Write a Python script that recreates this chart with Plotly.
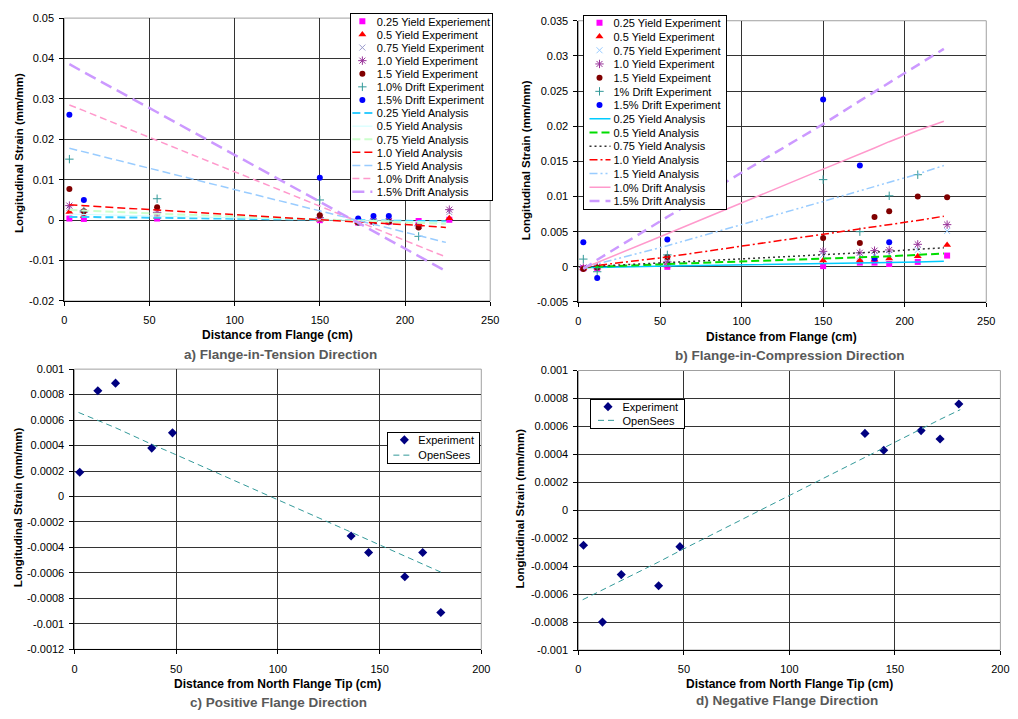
import plotly.graph_objects as go

# ======================= DATA =======================
# ---- a) Flange-in-Tension Direction ----
A_EXP_X = [3, 11.5, 54.5, 150, 172.5, 181.5, 190.5, 208, 226]
A_EXP_NAMES = ["0.25 Yield Experiement", "0.5 Yield Experiment", "0.75 Yield Experiment",
               "1.0 Yield Experiment", "1.5 Yield Experiment", "1.0% Drift Experiment",
               "1.5% Drift Experiment"]
A_EXP_025 = [0.0004, 0.0003, 0.0004, 0.0000, -0.0006, -0.0004, -0.0004, -0.0002, 0.0001]
A_EXP_050 = [0.0020, 0.0010, 0.0008, 0.0001, -0.0005, -0.0006, -0.0004, -0.0008, 0.0005]
A_EXP_075 = [0.0030, 0.0016, 0.0014, 0.0003, -0.0004, -0.0003, -0.0003, -0.0010, 0.0020]
A_EXP_100 = [0.0036, 0.0020, 0.0019, 0.0006, -0.0004, -0.0002, -0.0002, -0.0014, 0.0026]
A_EXP_150 = [0.0077, 0.0022, 0.0032, 0.0012, -0.0006, -0.0004, -0.0004, -0.0018, None]
A_EXP_D10 = [0.0151, 0.0023, 0.0053, 0.0050, -0.0004, -0.0003, -0.0002, -0.0040, None]
A_EXP_D15 = [0.0261, 0.0050, None, 0.0105, 0.0004, 0.0010, 0.0010, None, None]

A_ANA_X = [3, 11.5, 54.5, 150, 172.5, 181.5, 190.5, 208, 224]
A_ANA_NAMES = ["0.25 Yield Analysis", "0.5 Yield Analysis", "0.75 Yield Analysis",
               "1.0 Yield Analysis", "1.5 Yield Analysis", "1.0% Drift Analysis",
               "1.5% Drift Analysis"]
A_ANA_025 = [0.0008, 0.0008, 0.0006, 0.0001, 0.0000, -0.0001, -0.0001, -0.0002, -0.0003]
A_ANA_050 = [0.0015, 0.0014, 0.0010, 0.0001, -0.0001, -0.0002, -0.0003, -0.0004, -0.0005]
A_ANA_075 = [0.0025, 0.0024, 0.0016, 0.0001, -0.0002, -0.0004, -0.0005, -0.0007, -0.0009]
A_ANA_100 = [0.0038, 0.0036, 0.0025, 0.0001, -0.0004, -0.0007, -0.0009, -0.0013, -0.0018]
A_ANA_150 = [0.0178, 0.0169, 0.0124, 0.0023, -0.0001, -0.0010, -0.0020, -0.0038, -0.0055]
A_ANA_D10 = [0.0285, 0.0271, 0.0197, 0.0035, -0.0003, -0.0019, -0.0034, -0.0064, -0.0091]
A_ANA_D15 = [0.0386, 0.0366, 0.0267, 0.0045, -0.0007, -0.0028, -0.0049, -0.0089, -0.0126]

# ---- b) Flange-in-Compression Direction ----
B_EXP_X = [3, 11.5, 54.5, 150, 172.5, 181.5, 190.5, 208, 226]
B_EXP_NAMES = ["0.25 Yield Experiment", "0.5 Yield Experiment", "0.75 Yield Experiment",
               "1.0 Yield Experiment", "1.5 Yield Expeiment", "1% Drift Experiment",
               "1.5% Drift Experiment"]
B_EXP_025 = [-0.0002, -0.0002, 0.0000, 0.0001, 0.0006, 0.0006, 0.0004, 0.0007, 0.0016]
B_EXP_050 = [-0.0002, -0.0001, 0.0002, 0.0009, 0.0009, 0.0010, 0.0012, 0.0015, 0.0031]
B_EXP_075 = [-0.0001, 0.0000, 0.0005, 0.0017, 0.0015, 0.0016, 0.0018, 0.0024, 0.0051]
B_EXP_100 = [-0.0001, 0.0000, 0.0007, 0.0022, 0.0020, 0.0023, 0.0024, 0.0032, 0.0060]
B_EXP_150 = [-0.0003, -0.0001, 0.0014, 0.0041, 0.0034, 0.0071, 0.0079, 0.0100, 0.0099]
B_EXP_D10 = [0.0011, -0.0007, 0.0017, 0.0124, 0.0050, None, 0.0101, 0.0131, None]
B_EXP_D15 = [0.0035, -0.0016, 0.0039, 0.0238, 0.0144, 0.0012, 0.0035, None, None]

B_ANA_X = [3, 11.5, 54.5, 150, 172.5, 181.5, 190.5, 208, 224]
B_ANA_NAMES = ["0.25 Yield Analysis", "0.5 Yield Analysis", "0.75 Yield Analysis",
               "1.0 Yield Analysis", "1.5 Yield Analysis", "1.0% Drift Analysis",
               "1.5% Drift Analysis"]
B_ANA_025 = [-0.0001, -0.0001, 0.0001, 0.0004, 0.0005, 0.0006, 0.0006, 0.0007, 0.0008]
B_ANA_050 = [-0.0001, 0.0000, 0.0004, 0.0011, 0.0013, 0.0014, 0.0015, 0.0017, 0.0019]
B_ANA_075 = [-0.0001, 0.0001, 0.0006, 0.0017, 0.0020, 0.0021, 0.0022, 0.0025, 0.0027]
B_ANA_100 = [-0.0001, 0.0002, 0.0014, 0.0046, 0.0054, 0.0057, 0.0060, 0.0066, 0.0072]
B_ANA_150 = [-0.0001, 0.0004, 0.0030, 0.0093, 0.0108, 0.0114, 0.0120, 0.0132, 0.0144]
B_ANA_D10 = [-0.0002, 0.0006, 0.0047, 0.0139, 0.0160, 0.0169, 0.0178, 0.0194, 0.0207]
B_ANA_D15 = [-0.0003, 0.0010, 0.0071, 0.0203, 0.0236, 0.0249, 0.0262, 0.0287, 0.0310]

# ---- c) Positive Flange Direction ----
C_EXP_X = [2.6, 11.5, 20.2, 38, 48.2, 136, 144.6, 162.4, 171.2, 180.1]
C_EXP_Y = [0.00019, 0.00083, 0.00089, 0.00038, 0.00050, -0.00031, -0.00044, -0.00063, -0.00044, -0.00091]
C_SIM_X = [2, 11.5, 20.2, 38, 48.2, 136, 144.6, 162.4, 171.2, 181]
C_SIM_Y = [0.00066, 0.00060, 0.00054, 0.00041, 0.00034, -0.00028, -0.00034, -0.00047, -0.00053, -0.00060]

# ---- d) Negative Flange Direction ----
D_EXP_X = [2.4, 11.4, 20.3, 38, 48.1, 135.8, 144.7, 162.4, 171.4, 180.3]
D_EXP_Y = [-0.00025, -0.00080, -0.00046, -0.00054, -0.00026, 0.00055, 0.00043, 0.00057, 0.00051, 0.00076]
D_SIM_X = [2, 11.4, 20.3, 38, 48.1, 135.8, 144.7, 162.4, 171.4, 181]
D_SIM_Y = [-0.00064, -0.00057, -0.00050, -0.00037, -0.00029, 0.00038, 0.00045, 0.00058, 0.00065, 0.00072]
CD_NAMES = ["Experiment", "OpenSees"]

# ---- ticks ----
AB_X_TICKS = [0, 50, 100, 150, 200, 250]
CD_X_TICKS = [0, 50, 100, 150, 200]
A_Y_TICKS = [-0.02, -0.01, 0, 0.01, 0.02, 0.03, 0.04, 0.05]
A_Y_LABELS = ["-0.02", "-0.01", "0", "0.01", "0.02", "0.03", "0.04", "0.05"]
B_Y_TICKS = [-0.005, 0, 0.005, 0.01, 0.015, 0.02, 0.025, 0.03, 0.035]
B_Y_LABELS = ["-0.005", "0", "0.005", "0.01", "0.015", "0.02", "0.025", "0.03", "0.035"]
C_Y_TICKS = [-0.0012, -0.001, -0.0008, -0.0006, -0.0004, -0.0002, 0, 0.0002, 0.0004, 0.0006, 0.0008, 0.001]
C_Y_LABELS = ["-0.0012", "-0.001", "-0.0008", "-0.0006", "-0.0004", "-0.0002", "0",
              "0.0002", "0.0004", "0.0006", "0.0008", "0.001"]
D_Y_TICKS = [-0.001, -0.0008, -0.0006, -0.0004, -0.0002, 0, 0.0002, 0.0004, 0.0006, 0.0008, 0.001]
D_Y_LABELS = ["-0.001", "-0.0008", "-0.0006", "-0.0004", "-0.0002", "0",
              "0.0002", "0.0004", "0.0006", "0.0008", "0.001"]

Y_TITLE = "Longitudinal Strain (mm/mm)"
AB_X_TITLE = "Distance from Flange (cm)"
CD_X_TITLE = "Distance from North Flange Tip (cm)"
CAPTIONS = ["a) Flange-in-Tension Direction", "b) Flange-in-Compression Direction",
            "c) Positive Flange Direction", "d) Negative Flange Direction"]

# ======================= STYLE =======================
W, H = 1018, 719
FONT = "Liberation Sans, Arial, sans-serif"
GRID = "#333333"

def px_x(p):
    return p / W

def px_y(p):
    return 1 - p / H

EXP_STYLES_A = [
    dict(symbol="square", color="#FF00FF", size=6),
    dict(symbol="triangle-up", color="#FF0000", size=7),
    dict(symbol="x-thin-open", color="#9999CC", size=6),
    dict(symbol="asterisk-open", color="#993399", size=7),
    dict(symbol="circle", color="#800000", size=6),
    dict(symbol="cross-thin-open", color="#339999", size=6),
    dict(symbol="circle", color="#0000FF", size=6),
]
EXP_STYLES_B = [dict(s) for s in EXP_STYLES_A]
EXP_STYLES_B[2]["color"] = "#99CCFF"

ANA_STYLES_A = [
    dict(color="#33CCFF", dash="8px,4px", width=2),
    dict(color="#CCFFFF", dash="solid", width=1),
    dict(color="#CCFFCC", dash="8px,4px", width=2),
    dict(color="#FF0000", dash="8px,4px", width=1.5),
    dict(color="#99CCFF", dash="8px,4px", width=1.5),
    dict(color="#FF99CC", dash="7px,4px", width=1.5),
    dict(color="#CC99FF", dash="12px,6px", width=2.5),
]
ANA_STYLES_B = [
    dict(color="#00CCFF", dash="solid", width=1.5),
    dict(color="#00DD00", dash="8px,4px", width=2),
    dict(color="#333333", dash="2px,3px", width=1.5),
    dict(color="#FF0000", dash="8px,3px,2px,3px", width=1.5),
    dict(color="#99CCFF", dash="8px,3px,2px,3px,2px,3px", width=1.5),
    dict(color="#FF99CC", dash="solid", width=1.5),
    dict(color="#CC99FF", dash="10px,6px", width=2.5),
]

fig = go.Figure()

def add_exp(xs, series, names, styles, xa, ya, leg):
    for ys, nm, st in zip(series, names, styles):
        open_sym = st["symbol"].endswith("open")
        fig.add_trace(go.Scatter(
            x=xs, y=ys, mode="markers", name=nm, xaxis=xa, yaxis=ya, legend=leg,
            marker=dict(symbol=st["symbol"], size=st["size"], color=st["color"],
                        line=dict(color=st["color"], width=1 if open_sym else 0)),
            cliponaxis=False, hoverinfo="skip"))

def add_ana(xs, series, names, styles, xa, ya, leg):
    for ys, nm, st in zip(series, names, styles):
        fig.add_trace(go.Scatter(
            x=xs, y=ys, mode="lines", name=nm, xaxis=xa, yaxis=ya, legend=leg,
            line=dict(color=st["color"], dash=st["dash"], width=st["width"]),
            hoverinfo="skip"))

add_exp(A_EXP_X, [A_EXP_025, A_EXP_050, A_EXP_075, A_EXP_100, A_EXP_150, A_EXP_D10, A_EXP_D15],
        A_EXP_NAMES, EXP_STYLES_A, "x", "y", "legend")
add_ana(A_ANA_X, [A_ANA_025, A_ANA_050, A_ANA_075, A_ANA_100, A_ANA_150, A_ANA_D10, A_ANA_D15],
        A_ANA_NAMES, ANA_STYLES_A, "x", "y", "legend")
add_exp(B_EXP_X, [B_EXP_025, B_EXP_050, B_EXP_075, B_EXP_100, B_EXP_150, B_EXP_D10, B_EXP_D15],
        B_EXP_NAMES, EXP_STYLES_B, "x2", "y2", "legend2")
add_ana(B_ANA_X, [B_ANA_025, B_ANA_050, B_ANA_075, B_ANA_100, B_ANA_150, B_ANA_D10, B_ANA_D15],
        B_ANA_NAMES, ANA_STYLES_B, "x2", "y2", "legend2")

for (ex, ey, sx, sy, xa, ya, leg) in [(C_EXP_X, C_EXP_Y, C_SIM_X, C_SIM_Y, "x3", "y3", "legend3"),
                                      (D_EXP_X, D_EXP_Y, D_SIM_X, D_SIM_Y, "x4", "y4", "legend4")]:
    fig.add_trace(go.Scatter(x=ex, y=ey, mode="markers", name=CD_NAMES[0], xaxis=xa, yaxis=ya,
                             legend=leg, marker=dict(symbol="diamond", size=7, color="#000080"),
                             cliponaxis=False, hoverinfo="skip"))
    fig.add_trace(go.Scatter(x=sx, y=sy, mode="lines", name=CD_NAMES[1], xaxis=xa, yaxis=ya,
                             legend=leg, line=dict(color="#339999", dash="6px,4px", width=1),
                             hoverinfo="skip"))

TICKFONT = dict(family=FONT, size=11, color="black")

def xaxis(dom, rng, ticks, anchor):
    return dict(domain=dom, range=rng, tickvals=ticks, ticktext=[str(t) for t in ticks],
                anchor=anchor, showgrid=True, gridcolor=GRID, gridwidth=1, zeroline=False,
                showline=True, linecolor="black", linewidth=1, ticks="outside", ticklen=4,
                tickcolor="black", tickfont=TICKFONT, ticklabelstandoff=5, fixedrange=True)

def yaxis(dom, rng, ticks, labels, anchor):
    return dict(domain=dom, range=rng, tickvals=ticks, ticktext=labels,
                anchor=anchor, showgrid=True, gridcolor=GRID, gridwidth=1, zeroline=False,
                showline=True, linecolor="black", linewidth=1, ticks="outside", ticklen=4,
                tickcolor="black", tickfont=TICKFONT, ticklabelstandoff=3, fixedrange=True)

# panel pixel boxes (left, right, top, bottom)
PA = (62, 493, 12.3, 300)
PB = (582.3, 995, 15, 301)
PC = (72.3, 484, 369.3, 654.3)
PD = (582.3, 1009.3, 370.7, 655)

def dom(p):
    return [px_x(p[0]), px_x(p[1])], [px_y(p[3]), px_y(p[2])]

ax, ay = dom(PA); bx, by = dom(PB); cx, cy = dom(PC); dx, dy = dom(PD)

LEGFONT = dict(family=FONT, size=11, color="black")
def legend(x, xanchor, y):
    return dict(x=x, xanchor=xanchor, y=y, yanchor="top", bgcolor="white",
                bordercolor="black", borderwidth=1, font=LEGFONT, itemwidth=30,
                itemclick=False, itemdoubleclick=False, tracegroupgap=0)

annotations = []
def ann(text, x, y, size, bold=True, color="black", angle=0):
    annotations.append(dict(text=("<b>%s</b>" % text) if bold else text, x=px_x(x), y=px_y(y),
                            xref="paper", yref="paper", xanchor="center", yanchor="middle",
                            showarrow=False, textangle=angle,
                            font=dict(family=FONT, size=size, color=color)))

ann(AB_X_TITLE, 277.5, 335, 12)
ann(AB_X_TITLE, 788, 336.5, 12)
ann(CD_X_TITLE, 277.5, 690, 12)
ann(CD_X_TITLE, 795.5, 690, 12)
ann(Y_TITLE, 16.7, 150, 11.5, angle=-90)
ann(Y_TITLE, 529.3, 156.7, 11.5, angle=-90)
ann(Y_TITLE, 16, 510, 11.5, angle=-90)
ann(Y_TITLE, 523.3, 511, 11.5, angle=-90)
ann(CAPTIONS[0], 281, 354, 13.5, color="#595959")
ann(CAPTIONS[1], 796, 355, 13.5, color="#595959")
ann(CAPTIONS[2], 278.3, 708, 13.5, color="#595959")
ann(CAPTIONS[3], 793.3, 706.5, 13.5, color="#595959")

shapes = []
for xr, yr in [("x", "y"), ("x2", "y2"), ("x3", "y3"), ("x4", "y4")]:
    shapes.append(dict(type="rect", xref=xr + " domain", yref=yr + " domain", x0=0, x1=1, y0=0, y1=1,
                       line=dict(color="#A0A0A0", width=1), layer="below"))

fig.update_layout(
    width=W, height=H, margin=dict(l=0, r=0, t=0, b=0),
    paper_bgcolor="white", plot_bgcolor="white",
    font=dict(family=FONT, size=11, color="black"),
    showlegend=True,
    xaxis=xaxis(ax, [0, 250], AB_X_TICKS, "y"),
    yaxis=yaxis(ay, [-0.02, 0.05], A_Y_TICKS, A_Y_LABELS, "x"),
    xaxis2=xaxis(bx, [0, 250], AB_X_TICKS, "y2"),
    yaxis2=yaxis(by, [-0.005, 0.035], B_Y_TICKS, B_Y_LABELS, "x2"),
    xaxis3=xaxis(cx, [0, 200], CD_X_TICKS, "y3"),
    yaxis3=yaxis(cy, [-0.0012, 0.001], C_Y_TICKS, C_Y_LABELS, "x3"),
    xaxis4=xaxis(dx, [0, 200], CD_X_TICKS, "y4"),
    yaxis4=yaxis(dy, [-0.001, 0.001], D_Y_TICKS, D_Y_LABELS, "x4"),
    legend=legend(px_x(492), "right", px_y(13.3)),
    legend2=legend(px_x(583), "left", px_y(15)),
    legend3=legend(px_x(479), "right", px_y(431.7)),
    legend4=legend(px_x(590), "left", px_y(399.3)),
    annotations=annotations, shapes=shapes,
    hovermode=False,
)

# compact legend rows / symbol column to match the spreadsheet-style legends
POST = r"""
var gd = document.getElementById('{plot_id}');
var cfgs = {
  'legend':  {step: 13.1, pad: 1.5, x0: 2, len: 20, mx: 12, tx: 26.5, rpad: 2, right: 492, top: 13.3},
  'legend2': {step: 13.7, pad: 1.0, x0: 7, len: 21, mx: 17, tx: 31, rpad: 5, left: 582.5, top: 15},
  'legend3': {step: 15.3, pad: 0.5, x0: 6, len: 20, mx: 17, tx: 31, rpad: 5, right: 479, top: 431.7},
  'legend4': {step: 13.7, pad: 0.5, x0: 8, len: 20, mx: 18, tx: 32.5, rpad: 6, left: 590, top: 399.3}
};
function fixLegends(){
  Object.keys(cfgs).forEach(function(id){
    var c = cfgs[id];
    var lg = gd.querySelector('g.' + id);
    if(!lg) return;
    var bg = lg.querySelector('rect.bg');
    if(!bg) return;
    var items = lg.querySelectorAll('g.traces');
    var maxW = 0;
    items.forEach(function(it, i){
      it.setAttribute('transform', 'translate(0,' + (c.pad + c.step * (i + 0.5)) + ')');
      it.querySelectorAll('text').forEach(function(t){
        t.setAttribute('x', c.tx);
        t.querySelectorAll('tspan').forEach(function(s){ if(s.hasAttribute('x')) s.setAttribute('x', c.tx); });
        var w = 0;
        try { w = t.getBBox().width; } catch(e) { w = 0; }
        if(!w && t.getComputedTextLength) { w = t.getComputedTextLength(); }
        maxW = Math.max(maxW, w);
      });
      it.querySelectorAll('g.legendlines path').forEach(function(p){ p.setAttribute('d', 'M' + c.x0 + ',0h' + c.len); });
      it.querySelectorAll('path.scatterpts').forEach(function(p){ p.setAttribute('transform', 'translate(' + c.mx + ',0)'); });
    });
    if(maxW <= 0) return;
    var newW = c.tx + maxW + c.rpad;
    var newH = 2 * c.pad + c.step * items.length;
    bg.setAttribute('x', 0.5); bg.setAttribute('y', 0.5);
    bg.setAttribute('width', newW);
    bg.setAttribute('height', newH);
    var X = (c.right !== undefined) ? (c.right - newW) : c.left;
    lg.setAttribute('transform', 'translate(' + X + ',' + c.top + ')');
  });
}
fixLegends();
setTimeout(fixLegends, 50);
setTimeout(fixLegends, 300);
"""

fig.write_html("out.html", config={"displayModeBar": False}, post_script=POST)
